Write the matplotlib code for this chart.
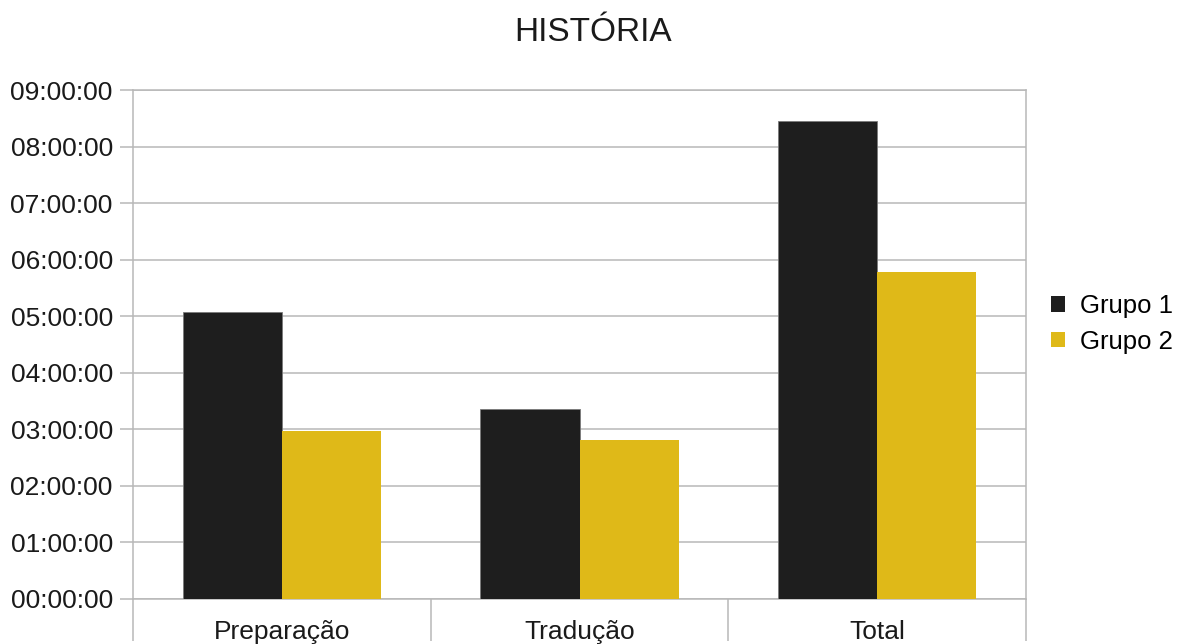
import matplotlib
matplotlib.use("Agg")
import matplotlib.pyplot as plt
from matplotlib.patches import Patch
from matplotlib.ticker import FuncFormatter, FixedLocator

plt.rcParams["font.family"] = ["Liberation Sans", "DejaVu Sans"]

categories = ["Preparação", "Tradução", "Total"]
series_names = ["Grupo 1", "Grupo 2"]
# durations as (hours, minutes)
grupo1 = [(5, 5), (3, 22), (8, 27)]
grupo2 = [(2, 58), (2, 49), (5, 47)]
colors = ["#1e1e1e", "#dfb918"]

GRID = "#b8b8b8"


def to_hours(vals):
    return [h + m / 60.0 for h, m in vals]


def hms(v, _pos=None):
    total = int(round(v * 3600))
    return f"{total // 3600:02d}:{(total % 3600) // 60:02d}:{total % 60:02d}"


fig = plt.figure(figsize=(11.78, 6.44), dpi=100)
ax = fig.add_axes([0.1129, 0.0699, 0.871 - 0.1129, 0.860 - 0.0699])

width = 1 / 3
xs = [i + 0.5 for i in range(len(categories))]
ax.bar([x - width / 2 for x in xs], to_hours(grupo1), width=width,
       color=colors[0], edgecolor="#7a7a7a", linewidth=0.6, zorder=3)
ax.bar([x + width / 2 for x in xs], to_hours(grupo2), width=width,
       color=colors[1], linewidth=0, zorder=3)

ax.set_xlim(0, len(categories))
ax.set_ylim(0, 9)
ax.set_yticks(range(0, 10))
ax.yaxis.set_major_formatter(FuncFormatter(hms))
ax.grid(axis="y", color=GRID, linewidth=1.1, zorder=0)
ax.tick_params(axis="y", direction="out", length=9.5, width=1.1,
               color=GRID, pad=5, labelsize=19, labelcolor="#1a1a1a")

ax.set_xticks(xs)
ax.set_xticklabels(categories)
ax.xaxis.set_minor_locator(FixedLocator(range(len(categories) + 1)))
ax.tick_params(axis="x", which="major", length=0, pad=15,
               labelsize=19, labelcolor="#1a1a1a")
ax.tick_params(axis="x", which="minor", direction="out", length=30,
               width=1.1, color=GRID)

for side in ("left", "right", "top", "bottom"):
    ax.spines[side].set_color(GRID)
    ax.spines[side].set_linewidth(1.1)

fig.text(0.5035, 0.950, "HISTÓRIA", ha="center", va="center",
         fontsize=24, color="#1a1a1a")

handles = [Patch(facecolor=c, edgecolor="none") for c in colors]
fig.legend(handles, series_names, loc="center left",
           bbox_to_anchor=(0.892, 0.497), frameon=False, fontsize=18.5,
           handlelength=0.55, handleheight=0.55, handletextpad=0.6,
           labelspacing=0.45, borderaxespad=0, borderpad=0)

fig.savefig("out.png", dpi=100)
